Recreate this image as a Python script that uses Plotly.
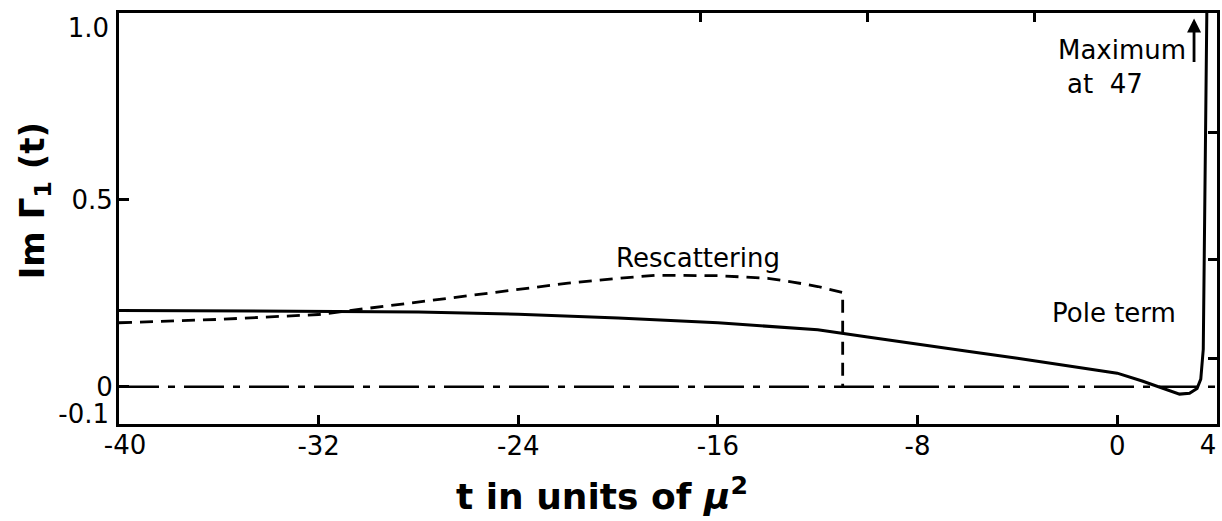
import plotly.graph_objects as go

# ---- data ----
t_pole = [-40, -36, -32, -28, -24, -20, -16, -12, -10, -8, -6, -4, -2, 0, 1, 1.5, 2, 2.5, 2.9, 3.2, 3.35, 3.45, 3.6]
im_pole = [0.204, 0.203, 0.201, 0.2, 0.194, 0.184, 0.171, 0.152, 0.133, 0.115, 0.095, 0.076, 0.057, 0.036, 0.015,
           0.003, -0.01, -0.02, -0.018, -0.005, 0.02, 0.1, 1.05]

t_resc = [-40, -36, -32, -30, -28, -26, -24, -22, -20, -18.5, -16, -14, -13, -12, -11, -11]
im_resc = [0.171, 0.18, 0.193, 0.21, 0.227, 0.243, 0.259, 0.277, 0.29, 0.298, 0.297, 0.29, 0.28, 0.268, 0.252, 0.0]

t_zero = [-40, 4]
im_zero = [0, 0]

x_ticks = [-40, -32, -24, -16, -8, 0, 4]
x_ticktext = ["-40", "-32", "-24", "-16", "-8", "0", "4"]
y_ticks = [-0.1, 0, 0.5, 1.0]
y_ticktext = ["-0.1", "0", "0.5", "1.0"]
top_ticks = [-16.7, -10, -3.3]
right_ticks = [0.075, 0.34, 0.68]

FONT = "DejaVu Sans"
X_RANGE = [-40, 4]
Y_RANGE = [-0.1, 1.0]

fig = go.Figure()
fig.add_trace(go.Scatter(x=t_zero, y=im_zero, mode="lines",
                         line=dict(color="black", width=2.5, dash="40px,9px,7px,9px"),
                         showlegend=False, hoverinfo="skip"))
fig.add_trace(go.Scatter(x=t_resc, y=im_resc, mode="lines",
                         line=dict(color="black", width=2.8, dash="13px,8px"),
                         showlegend=False, hoverinfo="skip"))
fig.add_trace(go.Scatter(x=t_pole, y=im_pole, mode="lines",
                         line=dict(color="black", width=3),
                         showlegend=False, hoverinfo="skip"))
# dummy traces so the overlay tick / label axes are drawn
for xa, ya in [("x", "y2"), ("x", "y3"), ("x", "y4"), ("x2", "y"), ("x3", "y"), ("x4", "y")]:
    fig.add_trace(go.Scatter(x=[None], y=[None], xaxis=xa, yaxis=ya, mode="lines",
                             showlegend=False, hoverinfo="skip"))

tickfont = dict(family=FONT, size=26, color="black")
plain = dict(showline=False, showgrid=False, zeroline=False)


def x_label_axis(i, shift):
    # bottom label-only axis for one end tick (labels nudged inward as in the reference)
    return dict(range=X_RANGE, overlaying="x", side="bottom", anchor="y",
                tickvals=[x_ticks[i]], ticktext=[x_ticktext[i]], ticks="",
                tickfont=tickfont, ticklabelstandoff=3, ticklabelshift=shift,
                ticklabeloverflow="allow", **plain)


def y_label_axis(i, shift):
    return dict(range=Y_RANGE, overlaying="y", side="left", anchor="x",
                tickvals=[y_ticks[i]], ticktext=[y_ticktext[i]], ticks="",
                tickfont=tickfont, ticklabelstandoff=9, ticklabelshift=shift, **plain)


fig.update_layout(
    width=1222, height=521,
    margin=dict(l=119, r=2, t=13, b=97),
    paper_bgcolor="white", plot_bgcolor="white",
    font=dict(family=FONT, color="black"),
    xaxis=dict(range=X_RANGE, tickvals=x_ticks,
               ticktext=[""] + x_ticktext[1:-1] + [""], ticks="inside",
               ticklen=9, tickwidth=2.5, tickcolor="black", tickfont=tickfont,
               ticklabelstandoff=-3,
               showline=True, linewidth=3, linecolor="black", mirror=True,
               showgrid=False, zeroline=False),
    yaxis=dict(range=Y_RANGE, tickvals=y_ticks[1:3], ticktext=y_ticktext[1:3], ticks="inside",
               ticklen=10, tickwidth=2.5, tickcolor="black", tickfont=tickfont,
               ticklabelstandoff=-2,
               showline=True, linewidth=3, linecolor="black", mirror=True,
               showgrid=False, zeroline=False),
    yaxis2=y_label_axis(3, 15),
    yaxis3=y_label_axis(0, -10),
    yaxis4=dict(range=Y_RANGE, overlaying="y", side="right", anchor="x",
                tickvals=right_ticks, ticks="inside", ticklen=9, tickwidth=2.5,
                tickcolor="black", showticklabels=False, **plain),
    xaxis2=dict(range=X_RANGE, overlaying="x", side="top", anchor="y",
                tickvals=top_ticks, ticks="inside", ticklen=9, tickwidth=2.5,
                tickcolor="black", showticklabels=False, **plain),
    xaxis3=x_label_axis(0, 6),
    xaxis4=x_label_axis(6, -9),
)

ann_font = dict(family=FONT, size=26, color="black")
fig.add_annotation(x=-16.8, y=0.344, xref="x", yref="y", text="Rescattering",
                   showarrow=False, font=ann_font, xanchor="center", yanchor="middle")
fig.add_annotation(x=-0.12, y=0.197, xref="x", yref="y", text="Pole term",
                   showarrow=False, font=ann_font, xanchor="center", yanchor="middle")
fig.add_annotation(x=-2.45, y=0.9, xref="x", yref="y", text="Maximum",
                   showarrow=False, font=ann_font, xanchor="left", yanchor="middle")
fig.add_annotation(x=-2.1, y=0.81, xref="x", yref="y", text="at  47",
                   showarrow=False, font=ann_font, xanchor="left", yanchor="middle")
fig.add_annotation(x=3.08, y=0.985, ax=3.08, ay=0.865, xref="x", yref="y",
                   axref="x", ayref="y", text="", showarrow=True,
                   arrowhead=2, arrowsize=1.0, arrowwidth=2.8, arrowcolor="black")

fig.add_annotation(x=0.44, y=-0.17, xref="paper", yref="paper",
                   text="<b>t in units of <i>μ</i><sup>2</sup></b>", showarrow=False,
                   font=dict(family=FONT, size=36, color="black"),
                   xanchor="center", yanchor="middle")
fig.add_annotation(x=-0.077, y=0.543, xref="paper", yref="paper",
                   text="<b>Im Γ<sub>1</sub> (t)</b>", showarrow=False, textangle=-90,
                   font=dict(family=FONT, size=34, color="black"),
                   xanchor="center", yanchor="middle")

fig.write_html("out.html", config={"displayModeBar": False},
               post_script="document.body.style.margin='0px';")
